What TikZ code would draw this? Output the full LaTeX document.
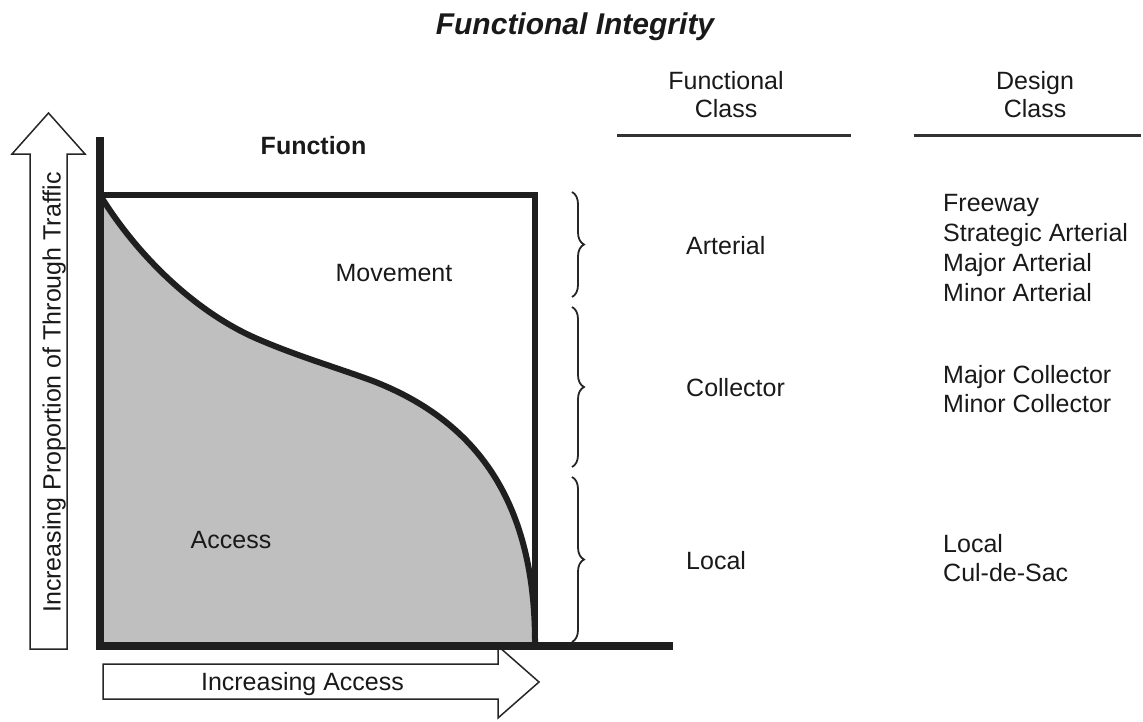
\documentclass[tikz,border=0pt]{standalone}
\usepackage{fontspec}
\setmainfont{Liberation Sans}
\usetikzlibrary{positioning}
\usetikzlibrary{decorations.pathreplacing}

\begin{document}
\begin{tikzpicture}[x=1pt, y=-1pt,
		lbl/.style={font=\fontsize{25}{30}\selectfont, text=black!90, inner sep=0pt},
		axisline/.style={line width=8pt, black!88, line join=miter},
		boxline/.style={line width=6pt, black!88, line join=miter},
		bigarrow/.style={draw=black!85, line width=1.5pt, fill=white, line join=miter},
		classbrace/.style={decorate, decoration={brace, amplitude=12pt}, line width=1.8pt, black!85},
		headrule/.style={line width=3pt, black!80}]
			\useasboundingbox (0, 0) rectangle (1143, 721);
			\node[lbl, font=\fontsize{30}{36}\selectfont\bfseries\itshape, anchor=base] (title) at (575, 34) {Functional Integrity};
			\draw[bigarrow] (30, 649)--(30, 154)--(12, 154)--(48.5, 113)--(85, 154)--(67, 154)--(67, 649)--cycle;
			\node[lbl, rotate=90, anchor=base] (throughtraffic) at (60.5, 392.5) {Increasing Proportion of Through Traffic};
			\draw[bigarrow] (103, 664)--(498, 664)--(498, 646)--(539, 682)--(498, 718)--(498, 699)--(103, 699)--cycle;
			\node[lbl, anchor=base] (moreaccess) at (302.5, 690) {Increasing Access};
			\fill[black!25] (100, 195) .. controls (140, 260) and (200, 315) .. (260, 340) .. controls (300, 357) and (335, 367) .. (373, 381) .. controls (468, 418) and (536, 492) .. (535, 646)--(100, 646)--cycle;
			\draw[line width=6pt, black!88] (100, 195) .. controls (140, 260) and (200, 315) .. (260, 340) .. controls (300, 357) and (335, 367) .. (373, 381) .. controls (468, 418) and (536, 492) .. (535, 646);
			\draw[boxline] (100, 195)--(535, 195)--(535, 646);
			\draw[axisline] (100, 137)--(100, 646)--(673, 646);
			\node[lbl, font=\fontsize{25}{30}\selectfont\bfseries, anchor=base] (function) at (313.5, 154) {Function};
			\node[lbl, anchor=base] (movement) at (394, 281) {Movement};
			\node[lbl, anchor=base] (access) at (231, 548) {Access};
			\draw[classbrace] (572, 192)--(572, 297);
			\draw[classbrace] (572, 307)--(572, 467);
			\draw[classbrace] (572, 477)--(572, 642);
			\node[lbl, anchor=base] (fchead) at (726, 89) {Functional};
			\node[lbl, anchor=base] (fcclass) at (726, 117) {Class};
			\node[lbl, anchor=base] (dchead) at (1035, 89) {Design};
			\node[lbl, anchor=base] (dcclass) at (1035, 117) {Class};
			\draw[headrule] (617, 135)--(851, 135);
			\draw[headrule] (914, 135)--(1141, 135);
			\node[lbl, anchor=base west] (arterial) at (686, 254) {Arterial};
			\node[lbl, anchor=base west] (collector) at (686, 396) {Collector};
			\node[lbl, anchor=base west] (local) at (686, 569) {Local};
			\node[lbl, anchor=base west] (freeway) at (943, 211) {Freeway};
			\node[lbl, anchor=base west] (strategic) at (943, 241) {Strategic Arterial};
			\node[lbl, anchor=base west] (majorart) at (943, 271) {Major Arterial};
			\node[lbl, anchor=base west] (minorart) at (943, 301) {Minor Arterial};
			\node[lbl, anchor=base west] (majorcol) at (943, 383) {Major Collector};
			\node[lbl, anchor=base west] (minorcol) at (943, 412) {Minor Collector};
			\node[lbl, anchor=base west] (localdc) at (943, 552) {Local};
			\node[lbl, anchor=base west] (culdesac) at (943, 581) {Cul-de-Sac};
		\end{tikzpicture}
\end{document}
